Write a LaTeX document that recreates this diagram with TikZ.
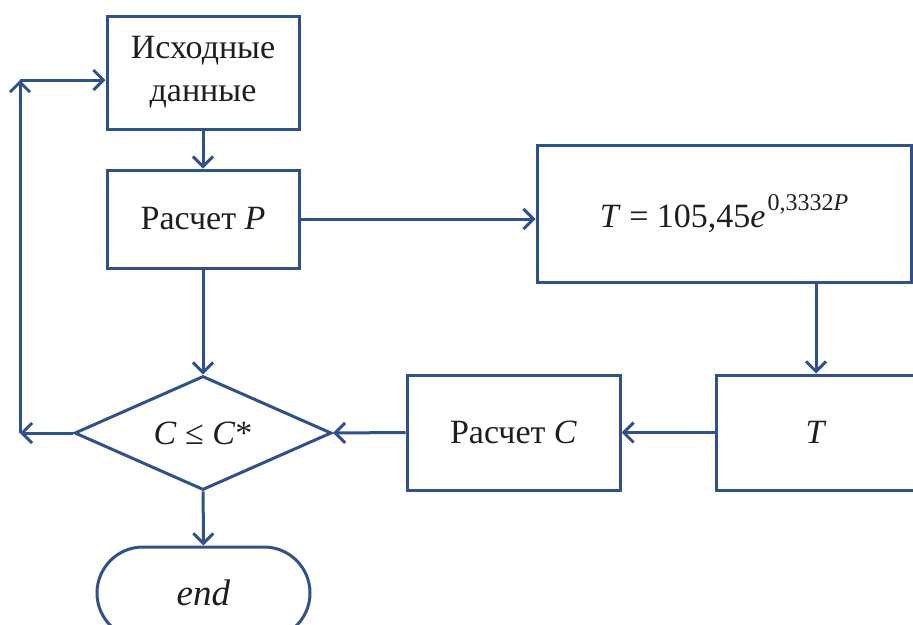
\documentclass[tikz,border=0pt]{standalone}
\usepackage{fontspec}
\setmainfont{Liberation Serif}
\usetikzlibrary{arrows.meta,shapes.geometric,shapes.misc}
\definecolor{flowblue}{RGB}{47,82,143}
\definecolor{inktext}{RGB}{30,30,30}
\begin{document}
\begin{tikzpicture} [x=1pt, y=-1pt,
    every node/.style={text=inktext, font=\fontsize{34}{43}\selectfont},
    block/.style={draw=flowblue, line width=3pt, rectangle, align=center, inner sep=0pt},
    decide/.style={draw=flowblue, line width=3pt, diamond, inner sep=0pt, aspect=2.25},
    stop/.style={draw=flowblue, line width=3pt, rounded rectangle, inner sep=0pt},
    arr/.style={draw=flowblue, line width=3pt, -{Straight Barb[length=10pt,width=20pt,line width=3pt]}}]
    \clip (0, 0) rectangle (913, 624);
    \node[block, minimum width=192, minimum height=113] (ishod) at (203, 72.5) {Исходные\\данные};
    \node[block, minimum width=192, minimum height=98] (rasP) at (203, 219) {Расчет \textit{P}};
    \node[block, minimum width=374, minimum height=137] (formula) at (724, 213.5) {\textit{T} = 105,45\textit{e}\kern2pt\raisebox{17pt}{\fontsize{24}{24}\selectfont 0,3332\textit{P}}};
    \node[block, minimum width=200, minimum height=115] (tbox) at (816, 432.5) {\textit{T}};
    \node[block, minimum width=213, minimum height=115] (rasC) at (513.5, 432.5) {Расчет \textit{C}};
    \node[decide, minimum width=257, minimum height=114] (cond) at (203, 433) {\textit{C} ≤ \textit{C}*};
    \node[stop, minimum width=213, minimum height=92, font=\fontsize{37}{43}\selectfont] (finish) at (203.5, 593) {\textit{end}};
    \coordinate (lc1) at (20, 433);
    \coordinate (lc2) at (20, 80);
    \draw[arr] (ishod) -- (rasP);
    \draw[arr] (rasP.east) -- (rasP.east -| formula.west);
    \draw[arr] (formula.south -| tbox.north) -- (tbox.north);
    \draw[arr] (tbox.west) -- (rasC.east);
    \draw[arr] (rasC.west) -- (cond.east);
    \draw[arr] (rasP) -- (cond);
    \draw[arr] (cond) -- (finish);
    \draw[arr] (cond.west) -- (lc1);
    \draw[arr] (lc1) -- (lc2);
    \draw[arr] (lc2) -- (lc2 -| ishod.west);
    \end{tikzpicture}
\end{document}
